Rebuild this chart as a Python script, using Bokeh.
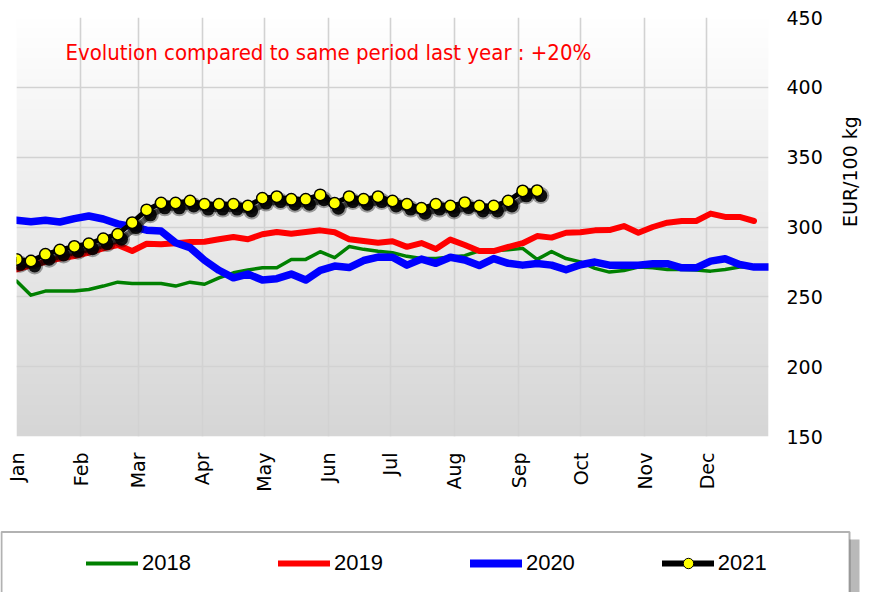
import math
import numpy as np
from bokeh.plotting import figure
from bokeh.models import (ColumnDataSource, FixedTicker, Legend, LegendItem, Label,
                          BoxAnnotation, LinearColorMapper, Range1d)
from bokeh.transform import dodge
from bokeh.embed import file_html
from bokeh.resources import INLINE

# ---------------- data ----------------
month_labels = ["Jan", "Feb", "Mar", "Apr", "May", "Jun",
                "Jul", "Aug", "Sep", "Oct", "Nov", "Dec"]
month_start_day = [0, 31, 59, 90, 120, 151, 181, 212, 243, 273, 304, 334]
y_ticks = [150, 200, 250, 300, 350, 400, 450]

# weekly prices, EUR/100 kg
y2018 = [261.3, 251.2, 254.1, 254.1, 254.1, 255.3, 257.7, 260.5, 259.6, 259.6,
         259.6, 257.7, 260.5, 259.0, 263.6, 267.2, 269.2, 270.8, 270.8, 276.8,
         276.8, 282.3, 278.0, 286.0, 284.0, 282.6, 281.6, 279.0, 277.5, 277.5,
         278.6, 279.5, 283.0, 283.0, 283.7, 284.7, 276.8, 282.4, 277.4, 275.0,
         270.4, 267.7, 268.9, 271.3, 270.8, 269.6, 269.6, 269.2, 268.4, 269.6,
         271.3, 271.5]
y2019 = [269.6, 272.5, 275.1, 277.5, 279.2, 281.6, 284.7, 287.1, 282.8, 288.0,
         287.6, 288.3, 289.2, 289.5, 291.2, 292.8, 291.2, 294.8, 296.4, 295.2,
         296.4, 297.6, 296.2, 291.2, 290.0, 288.7, 289.8, 285.8, 288.5, 284.3,
         291.0, 287.1, 282.8, 282.8, 285.7, 288.4, 293.5, 292.4, 295.9, 296.2,
         297.6, 297.8, 300.7, 295.9, 300.0, 303.1, 304.3, 304.3, 309.6, 307.2,
         307.2, 304.3]
y2020 = [304.8, 303.8, 304.8, 303.6, 306.0, 307.9, 305.7, 302.2, 300.3, 297.7,
         297.1, 288.7, 285.2, 276.2, 269.0, 263.6, 266.3, 262.0, 263.0, 266.3,
         262.0, 269.0, 272.0, 271.0, 276.0, 278.5, 278.3, 272.7, 277.0, 274.0,
         278.3, 276.4, 272.4, 277.4, 274.0, 272.7, 273.8, 272.7, 269.4, 273.0,
         274.9, 272.7, 272.7, 272.7, 273.7, 273.7, 270.8, 270.8, 275.6, 277.3,
         273.2, 271.3, 271.3]
y2021 = [276.8, 275.6, 280.4, 283.5, 286.1, 288.0, 291.6, 294.8, 303.1, 312.2,
         317.2, 317.2, 318.6, 316.3, 316.3, 316.3, 315.0, 320.6, 321.7, 319.8,
         319.8, 323.0, 317.0, 321.7, 319.8, 321.7, 318.6, 316.3, 313.4, 316.3,
         315.0, 317.4, 315.0, 315.0, 318.6, 325.8, 326.0]

series_names = ["2018", "2019", "2020", "2021"]
title_text = "Latest price : 326 EUR/100kg"
note_text = "Evolution compared to same period last year : +20%"
y_label = "EUR/100 kg"


def week_days(n):
    return [7 * i for i in range(n)]


# ---------------- main figure ----------------
p = figure(width=874, height=520,
           x_range=Range1d(0, 364), y_range=Range1d(150, 450),
           y_axis_location="right",
           output_backend="svg", toolbar_location=None,
           min_border_left=16, min_border_right=106,
           min_border_top=17, min_border_bottom=84,
           background_fill_color="white", border_fill_color="white",
           outline_line_color=None)

# vertical gradient background (white -> light grey)
greys = ["#%02x%02x%02x" % (v, v, v) for v in np.linspace(214, 255, 256).astype(int)]
mapper = LinearColorMapper(palette=greys, low=0, high=1)
grad = np.linspace(0, 1, 256).reshape(256, 1)
p.image(image=[grad], x=0, y=150, dw=364, dh=300, color_mapper=mapper, level="image")

# grids
xt = FixedTicker(ticks=month_start_day)
yt = FixedTicker(ticks=y_ticks)
p.xgrid.ticker = xt
p.ygrid.ticker = yt
for g in (p.xgrid[0], p.ygrid[0]):
    g.grid_line_color = "#d2d2d2"
    g.grid_line_width = 1.6

# x axis
xa = p.xaxis[0]
xa.ticker = xt
xa.major_label_overrides = {d: m for d, m in zip(month_start_day, month_labels)}
xa.major_label_orientation = math.pi / 2
xa.axis_line_color = None
xa.major_tick_line_color = None
xa.minor_tick_line_color = None
xa.major_tick_out = 0
xa.major_tick_in = 0
xa.major_label_standoff = 16
xa.major_label_text_font = "DejaVu Sans"
xa.major_label_text_font_size = "19px"
xa.major_label_text_color = "#000000"

# y axis (right)
ya = p.yaxis[0]
ya.ticker = yt
ya.axis_line_color = None
ya.major_tick_line_color = None
ya.minor_tick_line_color = None
ya.major_tick_out = 0
ya.major_tick_in = 0
ya.major_label_standoff = 18
ya.major_label_text_font = "DejaVu Sans"
ya.major_label_text_font_size = "19px"
ya.major_label_text_color = "#000000"
ya.axis_label = y_label
ya.axis_label_text_font = "DejaVu Sans"
ya.axis_label_text_font_size = "19px"
ya.axis_label_text_font_style = "normal"
ya.axis_label_text_color = "#000000"
ya.axis_label_standoff = 24
try:
    ya.axis_label_orientation = math.pi / 2
except AttributeError:
    pass

# ---------------- series ----------------
s18 = ColumnDataSource(dict(x=week_days(len(y2018)), y=y2018))
s19 = ColumnDataSource(dict(x=week_days(len(y2019)), y=y2019))
s20 = ColumnDataSource(dict(x=week_days(len(y2020)), y=y2020))
s21 = ColumnDataSource(dict(x=week_days(len(y2021)), y=y2021))

p.line("x", "y", source=s18, line_color="#008000", line_width=3.5,
       line_join="round", line_cap="round")
p.line("x", "y", source=s19, line_color="#ff0000", line_width=6,
       line_join="round", line_cap="round")
p.line("x", "y", source=s20, line_color="#0000ff", line_width=7.5,
       line_join="round", line_cap="round")

# 2021: drop shadow, black line, yellow markers
p.line(x=dodge("x", 1.8), y=dodge("y", -3.5), source=s21, line_color="black",
       line_alpha=0.6, line_width=6, line_join="round")
p.scatter(x=dodge("x", 1.8), y=dodge("y", -3.5), source=s21, size=17,
          fill_color="black", fill_alpha=0.35, line_color=None)
p.scatter(x=dodge("x", 1.8), y=dodge("y", -3.5), source=s21, size=13,
          fill_color="black", fill_alpha=0.9, line_color=None)
p.line("x", "y", source=s21, line_color="black", line_width=5,
       line_join="round", line_cap="round")
p.scatter("x", "y", source=s21, size=11.5, fill_color="#ffff00",
          line_color="black", line_width=1.5)

# ---------------- annotations ----------------
# chart title: in the original it sits above the visible area (cut off)
p.add_layout(Label(x=411, y=430, x_units="screen", y_units="screen",
                   text=title_text, text_align="center", text_baseline="alphabetic",
                   text_font="DejaVu Sans", text_font_style="bold",
                   text_font_size="18px", text_color="#000000"))

p.add_layout(Label(x=49, y=384, x_units="screen", y_units="screen",
                   text=note_text, text_align="left", text_baseline="alphabetic",
                   text_font="'Liberation Sans Narrow', 'DejaVu Sans Condensed', 'Liberation Sans', sans-serif",
                   text_font_size="22px", text_color="#ff0000"))

# ---------------- legend strip (separate root below the chart) ----------------
lg = figure(width=874, height=72, x_range=Range1d(0, 364), y_range=Range1d(150, 450),
            x_axis_location=None, y_axis_location=None,
            output_backend="svg", toolbar_location=None, min_border=0,
            min_border_left=0, min_border_right=0, min_border_top=0, min_border_bottom=0,
            background_fill_color="white", border_fill_color="white",
            outline_line_color=None)
lg.grid.visible = False

k18 = lg.line("x", "y", source=s18, line_color="#008000", line_width=4,
              line_cap="round", visible=False)
k19 = lg.line("x", "y", source=s19, line_color="#ff0000", line_width=6,
              line_cap="round", visible=False)
k20 = lg.line("x", "y", source=s20, line_color="#0000ff", line_width=8,
              line_cap="round", visible=False)
k21 = lg.line("x", "y", source=s21, line_color="black", line_width=6,
              line_cap="round", visible=False)
k21d = lg.scatter("x", "y", source=s21, marker="circle", size=7,
                  fill_color="#ffff00", line_color="black", line_width=1,
                  visible=False)

lg.add_layout(BoxAnnotation(left=8, right=859, top=53, bottom=-20,
                            left_units="screen", right_units="screen",
                            top_units="screen", bottom_units="screen",
                            fill_color="#8a8a8a", fill_alpha=0.6, line_color=None))
lg.add_layout(BoxAnnotation(left=1, right=849, top=60.5, bottom=-20,
                            left_units="screen", right_units="screen",
                            top_units="screen", bottom_units="screen",
                            fill_color="white", fill_alpha=1.0,
                            line_color="black", line_width=2))

legend = Legend(items=[LegendItem(label=series_names[0], renderers=[k18]),
                       LegendItem(label=series_names[1], renderers=[k19]),
                       LegendItem(label=series_names[2], renderers=[k20]),
                       LegendItem(label=series_names[3], renderers=[k21, k21d])],
                orientation="horizontal", location=(86, 16),
                glyph_width=52, glyph_height=26, label_height=26,
                label_standoff=4, spacing=87, padding=10, margin=0,
                label_text_font="Liberation Sans", label_text_font_size="22px",
                label_text_color="#000000",
                background_fill_alpha=0, border_line_color=None)
lg.add_layout(legend)

open("out.html", "w").write(file_html([p, lg], INLINE))
